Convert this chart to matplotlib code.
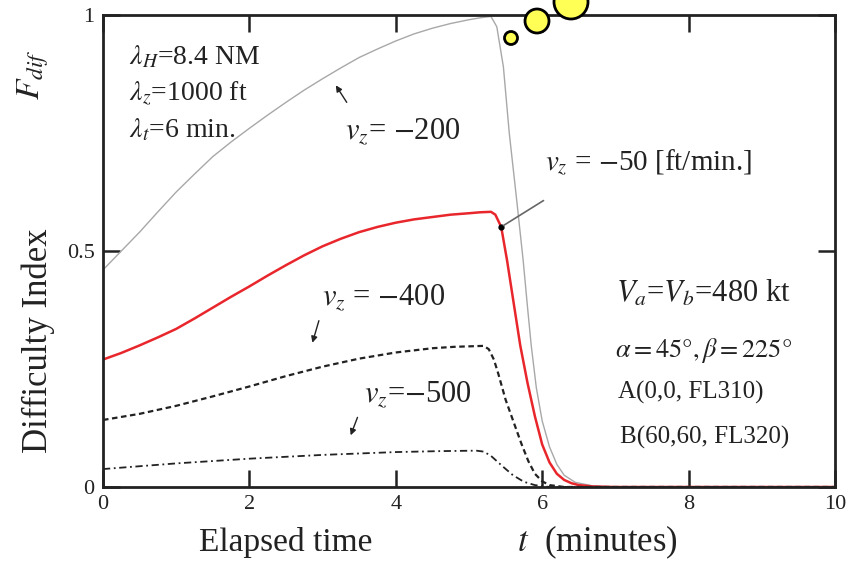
import matplotlib
matplotlib.use("Agg")
import matplotlib.pyplot as plt
from matplotlib.patches import Circle

plt.rcParams['font.family'] = ['Liberation Serif', 'DejaVu Serif']
plt.rcParams['mathtext.fontset'] = 'stix'

# ---- data ----
t_200 = [0, 0.25, 0.5, 0.75, 1.0, 1.25, 1.5, 1.75, 2.0, 2.25, 2.5, 2.75, 3.0, 3.25, 3.5,
         3.75, 4.0, 4.25, 4.5, 4.75, 5.0, 5.15, 5.3, 5.38, 5.47, 5.55, 5.65, 5.74, 5.8, 5.85,
         5.92, 6.0, 6.1, 6.2, 6.3, 6.45, 6.7, 7.0, 10]
f_200 = [0.46, 0.50, 0.54, 0.583, 0.625, 0.663, 0.70, 0.731, 0.76, 0.788, 0.815, 0.841, 0.865,
         0.888, 0.91, 0.928, 0.945, 0.96, 0.972, 0.982, 0.99, 0.994, 0.997, 0.975, 0.89, 0.75,
         0.61, 0.48, 0.38, 0.30, 0.21, 0.14, 0.085, 0.048, 0.025, 0.01, 0.002, 0.0, 0.0]

t_50 = [0, 0.25, 0.5, 0.75, 1.0, 1.25, 1.5, 1.75, 2.0, 2.25, 2.5, 2.75, 3.0, 3.25, 3.5, 3.75,
        4.0, 4.25, 4.5, 4.75, 5.0, 5.15, 5.3, 5.36, 5.44, 5.52, 5.6, 5.7, 5.8, 5.9, 6.0, 6.1,
        6.2, 6.3, 6.4, 6.5, 6.7, 7.0, 10]
f_50 = [0.27, 0.284, 0.30, 0.317, 0.335, 0.357, 0.38, 0.403, 0.425, 0.448, 0.47, 0.491, 0.51,
        0.526, 0.54, 0.551, 0.56, 0.567, 0.572, 0.577, 0.58, 0.582, 0.583, 0.577, 0.551, 0.48,
        0.40, 0.30, 0.22, 0.15, 0.09, 0.052, 0.028, 0.015, 0.008, 0.004, 0.001, 0.0, 0.0]

t_400 = [0, 0.5, 1.0, 1.5, 2.0, 2.5, 3.0, 3.5, 4.0, 4.5, 4.8, 5.0, 5.2, 5.27, 5.34, 5.4,
         5.5, 5.62, 5.72, 5.81, 5.9, 6.0, 6.1, 6.3, 10]
f_400 = [0.142, 0.155, 0.172, 0.192, 0.213, 0.235, 0.255, 0.272, 0.285, 0.294, 0.297, 0.298,
         0.299, 0.292, 0.27, 0.24, 0.185, 0.133, 0.09, 0.055, 0.028, 0.012, 0.004, 0.0, 0.0]

t_500 = [0, 0.5, 1.0, 1.5, 2.0, 2.5, 3.0, 3.5, 4.0, 4.6, 5.1, 5.2, 5.3, 5.45, 5.6, 5.75, 5.9,
         6.1, 10]
f_500 = [0.038, 0.044, 0.05, 0.055, 0.06, 0.064, 0.068, 0.071, 0.074, 0.076, 0.077, 0.075,
         0.066, 0.045, 0.025, 0.011, 0.004, 0.0, 0.0]

x_ticks = [0, 2, 4, 6, 8, 10]
y_ticks = [0, 0.5, 1]
y_ticklabels = ["0", "0.5", "1"]

# ---- figure ----
fig = plt.figure(figsize=(8.51, 5.61), dpi=100)
ax = fig.add_axes([103 / 851, 74 / 561, 732 / 851, 472 / 561])

ax.plot(t_200, f_200, color='#a8a8a8', lw=1.0)
ax.plot(t_50, f_50, color='#e8262b', lw=1.8)
ax.plot(t_400, f_400, color='#222222', lw=1.6, linestyle=(0, (2.5, 1.6)))
ax.plot(t_500, f_500, color='#222222', lw=1.3, linestyle=(0, (4, 2, 1, 2)))

ax.set_xlim(0, 10)
ax.set_ylim(0, 1)
ax.set_xticks(x_ticks)
ax.set_xticklabels([str(v) for v in x_ticks])
ax.set_yticks(y_ticks)
ax.set_yticklabels(y_ticklabels)
ax.tick_params(direction='in', length=12, width=1.8, top=True, right=True,
               labelsize=16, colors='#222222', pad=6)
for s in ax.spines.values():
    s.set_linewidth(2.0)
    s.set_color('#222222')

# axis labels
ax.text(-0.088, 0.31, 'Difficulty Index', transform=ax.transAxes, rotation=90,
        ha='center', va='center', fontsize=25, color='#222222')
ax.text(-0.095, 0.873, r'$F_{dif}$', transform=ax.transAxes, rotation=90,
        ha='center', va='center', fontsize=24, color='#222222')
ax.text(0.25, -0.118, 'Elapsed time', transform=ax.transAxes,
        ha='center', va='center', fontsize=24, color='#222222')
ax.text(0.565, -0.118, r'$t$  (minutes)', transform=ax.transAxes,
        ha='left', va='center', fontsize=25, color='#222222')

# parameter texts
tc = '#222222'
ax.text(0.36, 0.911, r'$\lambda_H$=8.4 NM', ha='left', va='center', fontsize=20, color=tc)
ax.text(0.36, 0.835, r'$\lambda_z$=1000 ft', ha='left', va='center', fontsize=20, color=tc)
ax.text(0.36, 0.756, r'$\lambda_t$=6 min.', ha='left', va='center', fontsize=20, color=tc)

ax.text(7.01, 0.41, r'$V_a$=$V_b$=480 kt', ha='left', va='center', fontsize=22, color=tc)
ax.text(6.99, 0.29, r'$\alpha = 45°, \beta = 225°$', ha='left', va='center', fontsize=19, color=tc)
ax.text(7.04, 0.20, 'A(0,0, FL310)', ha='left', va='center', fontsize=18, color=tc)
ax.text(7.06, 0.106, 'B(60,60, FL320)', ha='left', va='center', fontsize=18, color=tc)

# curve labels with arrows
ax.text(3.30, 0.752, r'$v_z$= $-$200', ha='left', va='center', fontsize=22, color=tc)
ax.annotate('', xy=(3.16, 0.856), xytext=(3.35, 0.81),
            arrowprops=dict(arrowstyle='-|>', color='#222222', lw=1.0, mutation_scale=9))

ax.text(6.04, 0.686, r'$v_z$ = $-$50 [ft/min.]', ha='left', va='center', fontsize=21, color=tc)
ax.annotate('', xy=(5.44, 0.551), xytext=(6.05, 0.61),
            arrowprops=dict(arrowstyle='-', color='#666666', lw=1.2))
ax.plot([5.44], [0.551], marker='o', ms=3.5, color='black')

ax.text(2.99, 0.40, r'$v_z$ = $-$400', ha='left', va='center', fontsize=22, color=tc)
ax.annotate('', xy=(2.85, 0.30), xytext=(2.96, 0.358),
            arrowprops=dict(arrowstyle='-|>', color='#222222', lw=1.0, mutation_scale=9))

ax.text(3.56, 0.195, r'$v_z$=$-$500', ha='left', va='center', fontsize=22, color=tc)
ax.annotate('', xy=(3.37, 0.104), xytext=(3.49, 0.153),
            arrowprops=dict(arrowstyle='-|>', color='#222222', lw=1.0, mutation_scale=9))

# decorative yellow circles at the top
for (px, py, r) in [(511, 38, 6.5), (537, 21, 12), (571, 2, 17)]:
    c = Circle((px / 100, (561 - py) / 100), r / 100, transform=fig.dpi_scale_trans,
               facecolor='#ffff55', edgecolor='black', lw=2.0, zorder=10, clip_on=False)
    fig.add_artist(c)

fig.savefig('out.png', dpi=100)
